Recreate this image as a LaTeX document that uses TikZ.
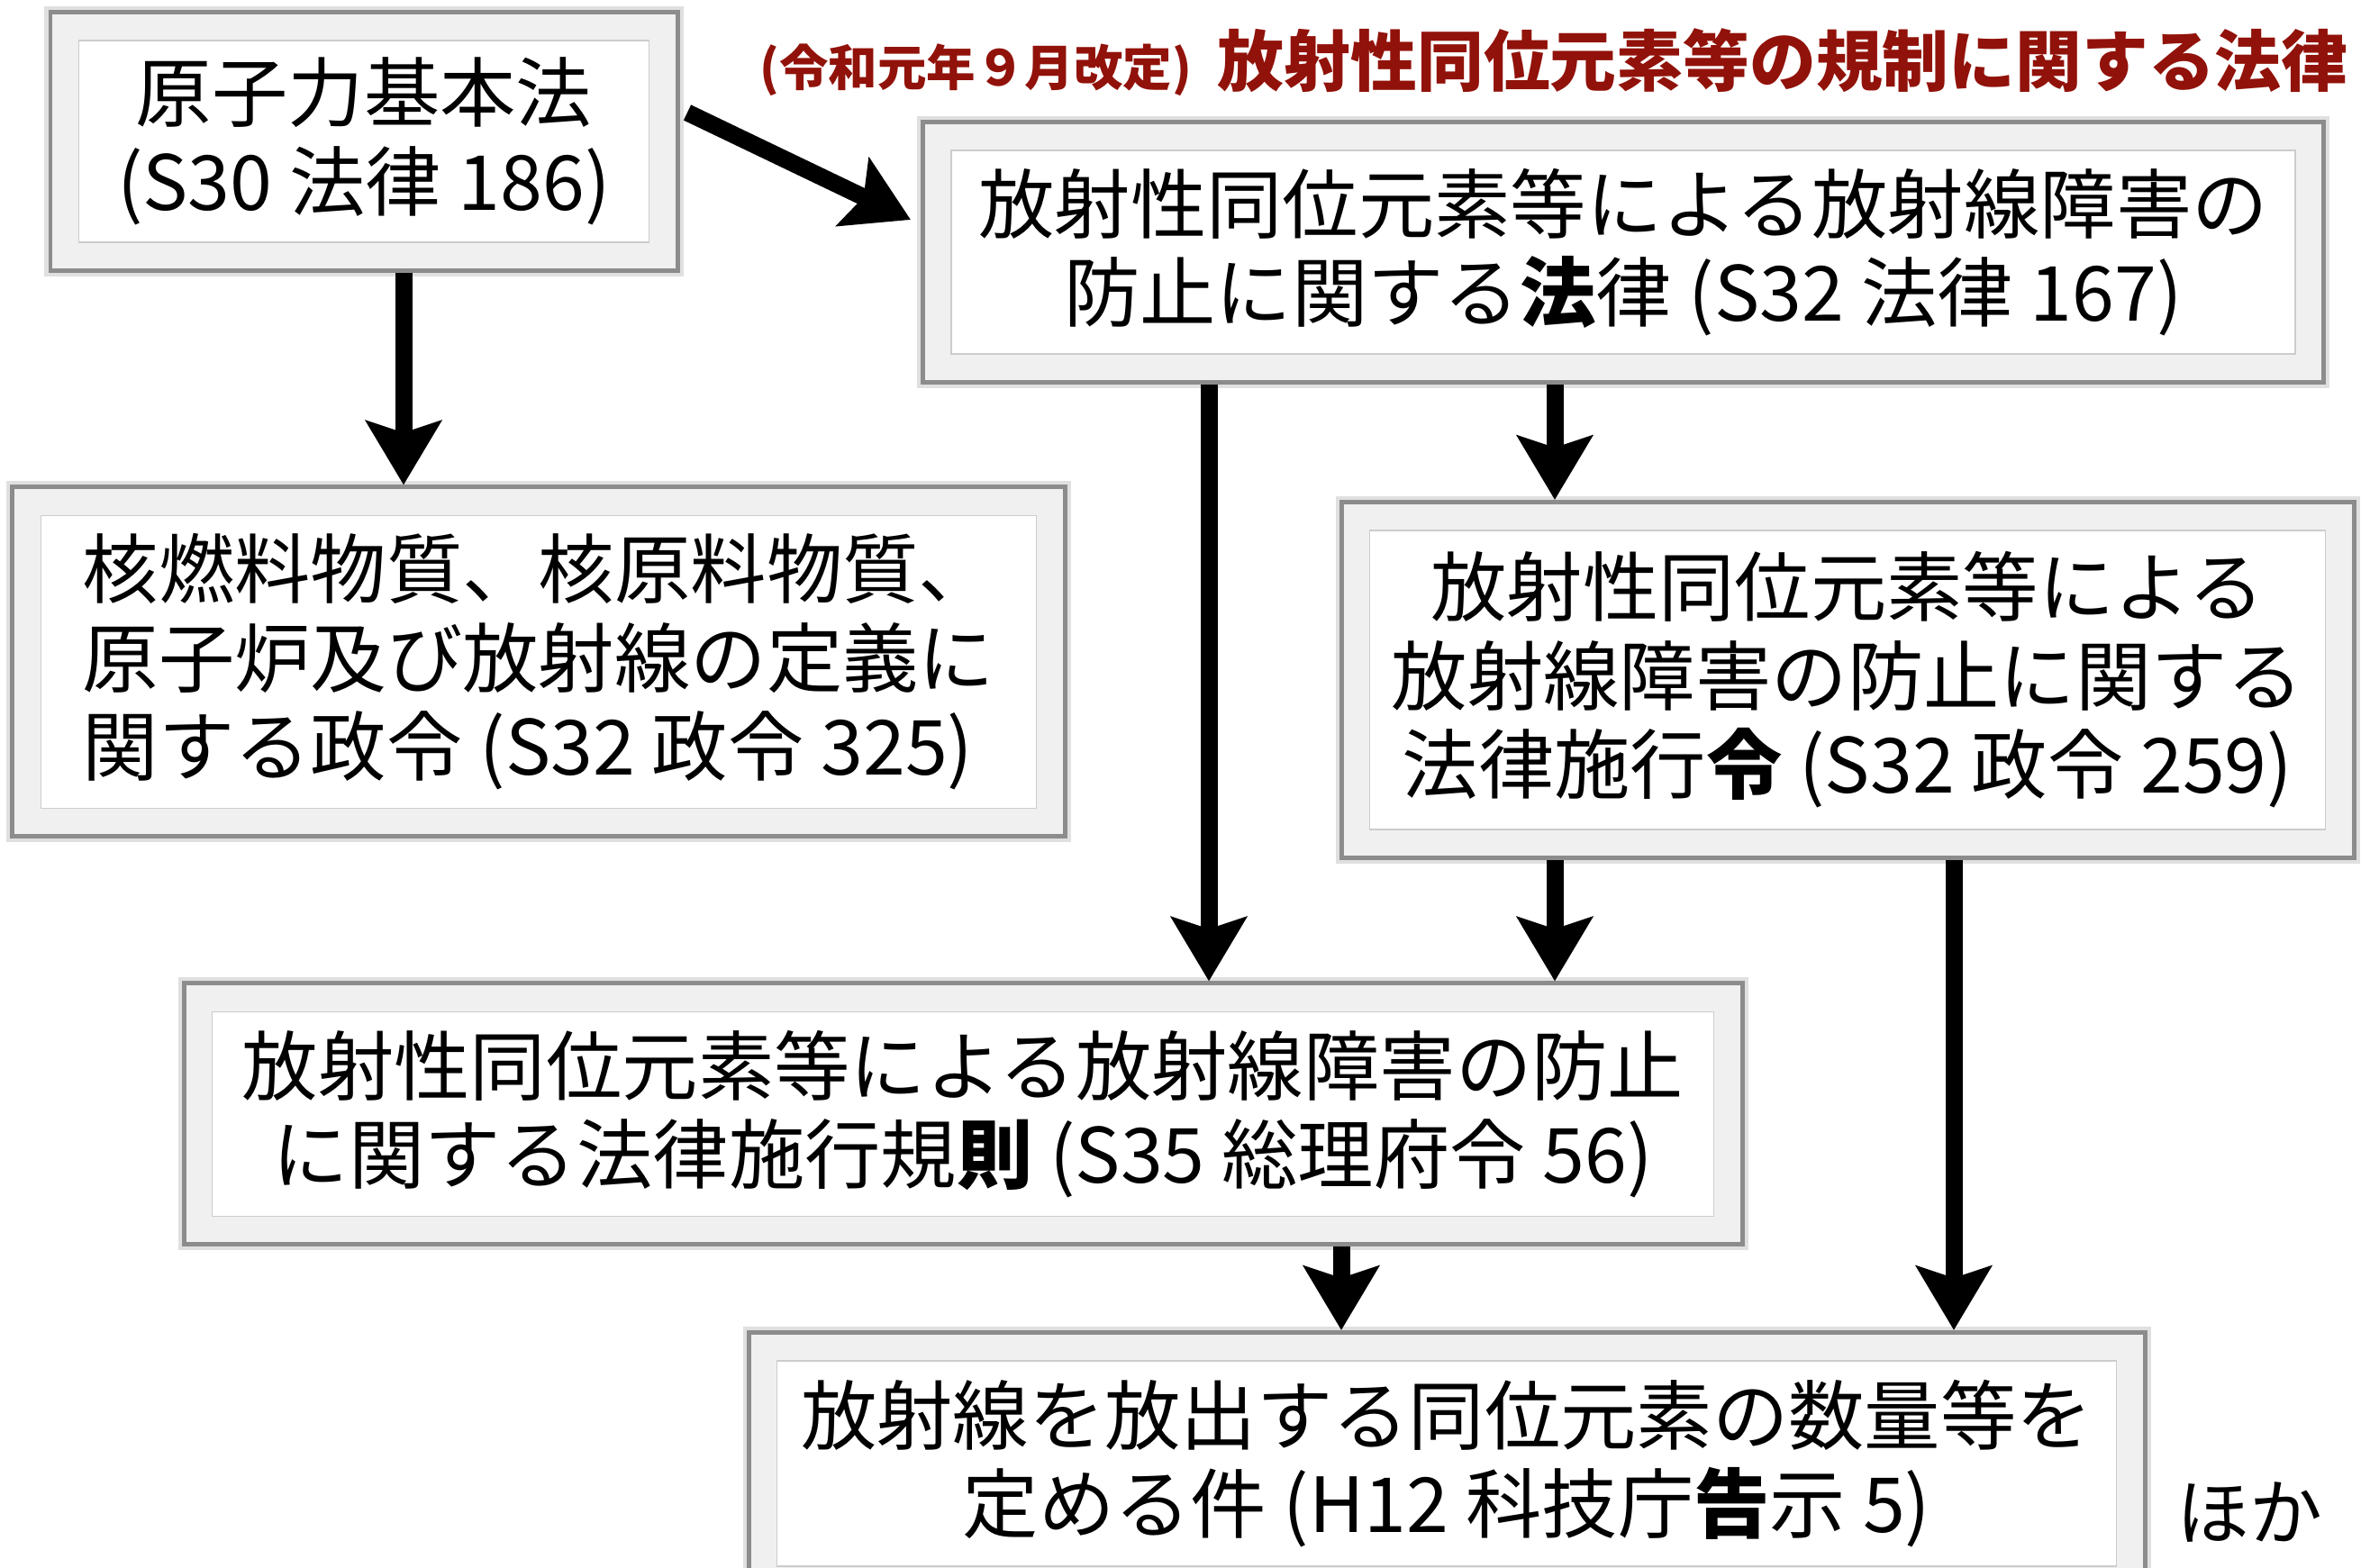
\documentclass[tikz,border=0pt]{standalone}
\usepackage{fontspec}
\setmainfont{Noto Sans CJK JP}
\usepackage{xcolor}
\usetikzlibrary{arrows.meta,calc}
\definecolor{lawred}{RGB}{145,18,10}

\begin{document}
\begin{tikzpicture}[
    law/.style={draw=black!20, line width=0.5pt, fill=white, inner sep=0pt,
      outer sep=0.34cm, align=center, font=\fontsize{24}{28}\selectfont,
      preaction={draw=black!12, line width=0.76cm},
      preaction={draw=black!45, line width=0.68cm},
      preaction={draw=black!6, line width=0.58cm}},
    arr/.style={line width=0.19cm,
      -{Stealth[length=0.71cm, width=0.83cm, inset=0.13cm]}},
  ]
    \useasboundingbox (0,0) rectangle (26.41,17.41);
    % Title
    \node[anchor=east, text=lawred, font=\fontsize{21}{25}\selectfont\bfseries]
      (title) at (26.19,16.74) {放射性同位元素等の規制に関する法律};
    \node[anchor=base east, text=lawred, font=\fontsize{15.5}{18}\selectfont\bfseries]
      (kaitei) at ([xshift=-0.04cm]title.base west) {(令和元年９月改定)};
    % Laws and ordinances
    \node[law, minimum width=6.33cm, minimum height=2.24cm] (kihon) at (4.04,15.84)
      {原子力基本法\\(S30 法律 186)};
    \node[law, minimum width=14.92cm, minimum height=2.26cm] (houritsu) at (18.02,14.61)
      {放射性同位元素等による放射線障害の\\防止に関する\textbf{法}律 (S32 法律 167)};
    \node[law, minimum width=11.05cm, minimum height=3.25cm, align=left] (teigi) at (5.98,10.06)
      {核燃料物質、核原料物質、\\原子炉及び放射線の定義に\\関する政令 (S32 政令 325)};
    \node[law, minimum width=10.61cm, minimum height=3.32cm] (seirei) at (20.51,9.86)
      {放射性同位元素等による\\放射線障害の防止に関する\\法律施行\textbf{令} (S32 政令 259)};
    \node[law, minimum width=16.67cm, minimum height=2.27cm] (kisoku) at (10.69,5.04)
      {放射性同位元素等による放射線障害の防止\\に関する法律施行規\textbf{則} (S35 総理府令 56)};
    \node[law, minimum width=14.87cm, minimum height=2.28cm] (kokuji) at (16.06,1.16)
      {放射線を放出する同位元素の数量等を\\定める件 (H12 科技庁\textbf{告}示 5)};
    \node[font=\fontsize{23}{27}\selectfont] (hoka) at (24.97,0.62) {ほか};
    % Arrows
    \draw[arr] ([shift={(0.085,0.32)}]kihon.east) -- ([shift={(-0.11,0.36)}]houritsu.west);
    \foreach \from/\to/\dx in {kihon/teigi/0.44, houritsu/kisoku/-4.60,
        houritsu/seirei/-0.76, seirei/kisoku/-3.25, seirei/kokuji/1.18,
        kisoku/kokuji/4.20} {
      \draw[arr] ([xshift=\dx cm]\from.south) -- ([xshift=\dx cm]\from.south |- \to.north);
    }
\end{tikzpicture}
\end{document}
